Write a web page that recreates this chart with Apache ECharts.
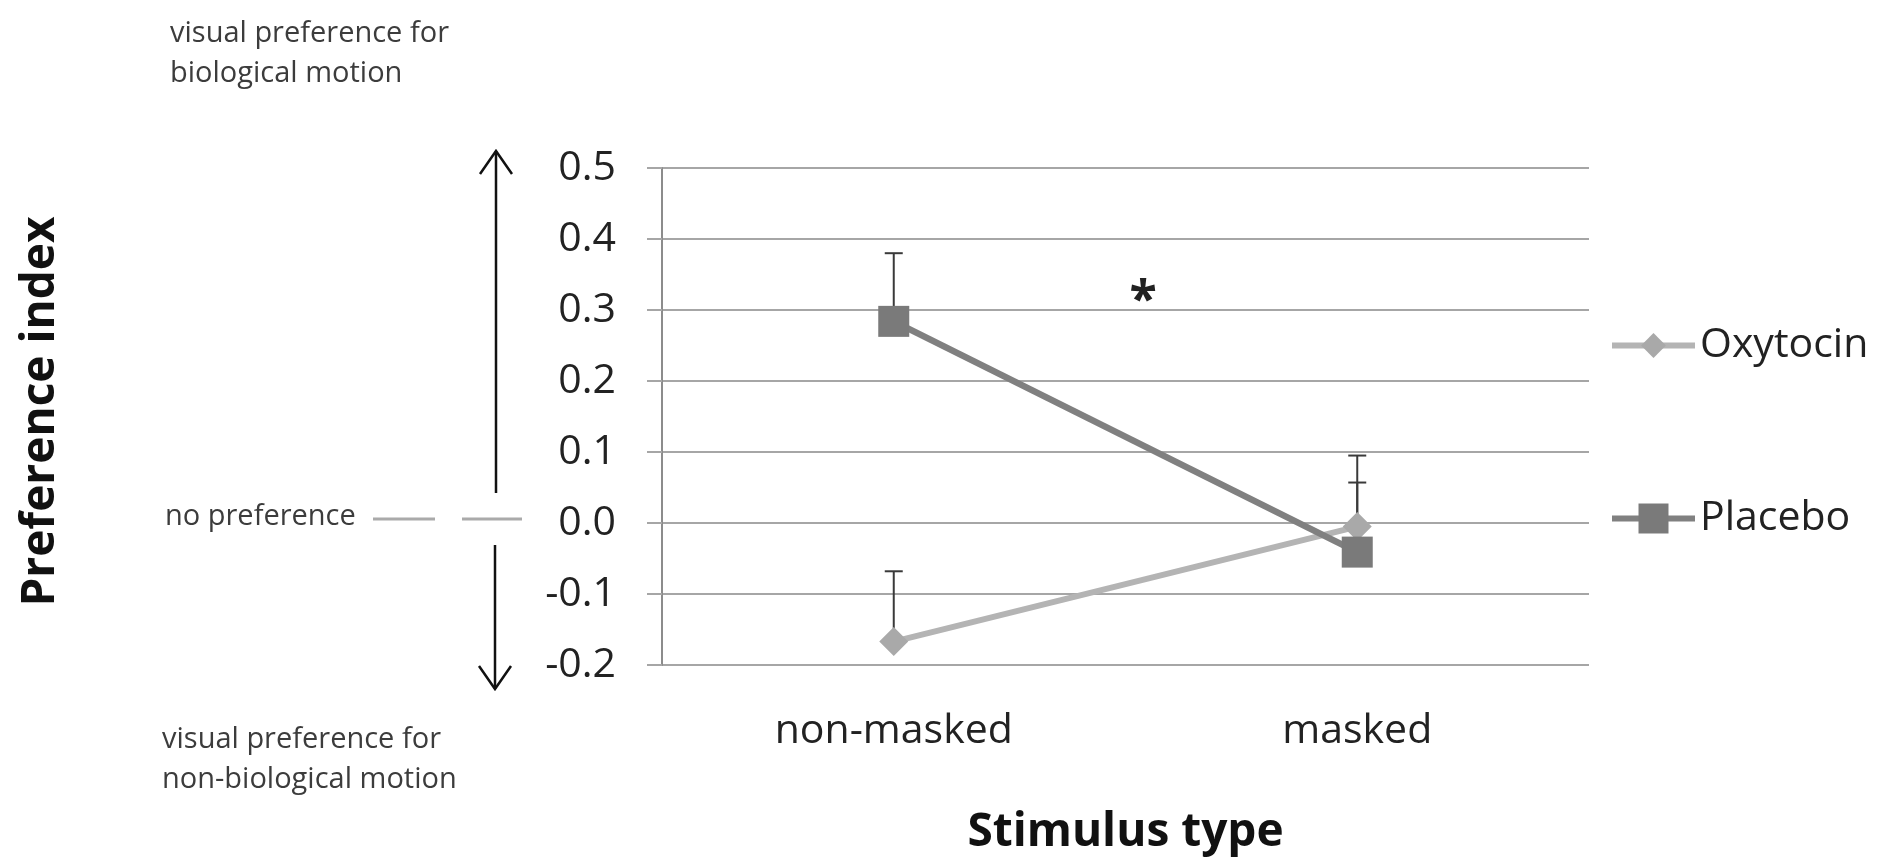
<!DOCTYPE html>
<html>
<head>
<meta charset="utf-8">
<script src="https://cdn.jsdelivr.net/npm/echarts@6/dist/echarts.min.js"></script>
<style>
  html, body { margin: 0; padding: 0; background: #ffffff; }
  #chart { width: 1881px; height: 867px; }
</style>
</head>
<body>
<div id="chart"></div>
<script>
// ---- data ----
var categories = ['non-masked', 'masked'];
var seriesNames = ['Oxytocin', 'Placebo'];
var oxytocinValues = [-0.167, -0.005];
var placeboValues = [0.284, -0.041];
var oxytocinErrors = [0.099, 0.100];
var placeboErrors = [0.096, 0.098];
var yTickLabels = ['-0.2', '-0.1', '0.0', '0.1', '0.2', '0.3', '0.4', '0.5'];
var yMin = -0.2, yMax = 0.5, yStep = 0.1;

var FONT = '"Open Sans", "Noto Sans", sans-serif';

function errData(vals, errs) {
  return vals.map(function (v, i) { return [i, v, errs[i]]; });
}

function errRender(params, api) {
  var x = api.value(0), y = api.value(1), e = api.value(2);
  var p0 = api.coord([x, y]);
  var p1 = api.coord([x, y + e]);
  var hw = 9;
  var st = { stroke: '#3a3a3a', lineWidth: 2 };
  return {
    type: 'group',
    children: [
      { type: 'line', shape: { x1: p0[0], y1: p0[1], x2: p1[0], y2: p1[1] }, style: st },
      { type: 'line', shape: { x1: p1[0] - hw, y1: p1[1], x2: p1[0] + hw, y2: p1[1] }, style: st }
    ]
  };
}

var chart = echarts.init(document.getElementById('chart'), null, { renderer: 'canvas' });

var option = {
  animation: false,
  backgroundColor: '#ffffff',
  grid: { left: 662, right: 292, top: 168, bottom: 202, containLabel: false },
  xAxis: {
    type: 'category',
    data: categories,
    boundaryGap: true,
    axisLine: { show: false },
    axisTick: { show: false },
    axisLabel: { margin: 46, fontSize: 41, fontFamily: FONT, color: '#222222' },
    name: 'Stimulus type',
    nameLocation: 'middle',
    nameGap: 145,
    nameTextStyle: { fontSize: 46, fontWeight: 'bold', fontFamily: FONT, color: '#111111' }
  },
  yAxis: {
    type: 'value',
    min: yMin,
    max: yMax,
    interval: yStep,
    axisLine: { show: true, lineStyle: { color: '#8c8c8c', width: 2 } },
    axisTick: { show: true, inside: false, length: 15, lineStyle: { color: '#a6a6a6', width: 2 } },
    splitLine: { show: true, lineStyle: { color: '#a6a6a6', width: 2 } },
    axisLabel: {
      margin: 46, fontSize: 41, fontFamily: FONT, color: '#222222',
      formatter: function (v) {
        var idx = Math.round((v - yMin) / yStep);
        return yTickLabels[idx];
      }
    },
    name: 'Preference index',
    nameLocation: 'middle',
    nameGap: 598,
    nameTextStyle: { fontSize: 46, fontWeight: 'bold', fontFamily: FONT, color: '#111111', padding: [0, 0, 0, 10] }
  },
  legend: [
    {
      data: [seriesNames[0]],
      orient: 'vertical',
      left: 1609, top: 325,
      padding: 0,
      itemWidth: 83, itemHeight: 31,
      lineStyle: { width: 6 },
      textStyle: { fontSize: 41, fontFamily: FONT, color: '#222222', lineHeight: 30 },
      selectedMode: false
    },
    {
      data: [seriesNames[1]],
      orient: 'vertical',
      left: 1609, top: 498,
      padding: 0,
      itemWidth: 83, itemHeight: 37.5,
      lineStyle: { width: 6 },
      textStyle: { fontSize: 41, fontFamily: FONT, color: '#222222', lineHeight: 30 },
      selectedMode: false
    }
  ],
  series: [
    {
      name: seriesNames[0] + ' error',
      type: 'custom',
      renderItem: errRender,
      data: errData(oxytocinValues, oxytocinErrors),
      z: 1,
      silent: true
    },
    {
      name: seriesNames[1] + ' error',
      type: 'custom',
      renderItem: errRender,
      data: errData(placeboValues, placeboErrors),
      z: 1,
      silent: true
    },
    {
      name: seriesNames[0],
      type: 'line',
      data: oxytocinValues,
      symbol: 'diamond',
      symbolSize: 29,
      color: '#b4b4b4',
      lineStyle: { color: '#b4b4b4', width: 6 },
      itemStyle: { color: '#a9a9a9' },
      z: 3
    },
    {
      name: seriesNames[1],
      type: 'line',
      data: placeboValues,
      symbol: 'rect',
      symbolSize: 31,
      color: '#7f7f7f',
      lineStyle: { color: '#808080', width: 6.5 },
      itemStyle: { color: '#7a7a7a' },
      z: 4
    }
  ],
  graphic: [
    // significance marker
    { type: 'text', x: 1143, y: 302, z: 10,
      style: { text: '*', font: 'bold 50px ' + FONT, fill: '#222222', align: 'center', verticalAlign: 'middle' } },
    // top annotation
    { type: 'text', x: 170, y: 14,
      style: { text: 'visual preference for\nbiological motion', font: '29px ' + FONT, fill: '#3c3c3c', lineHeight: 40, align: 'left', verticalAlign: 'top' } },
    // middle annotation
    { type: 'text', x: 165, y: 517,
      style: { text: 'no preference', font: '29px ' + FONT, fill: '#3c3c3c', align: 'left', verticalAlign: 'middle' } },
    // bottom annotation
    { type: 'text', x: 162, y: 720,
      style: { text: 'visual preference for\nnon-biological motion', font: '29px ' + FONT, fill: '#3c3c3c', lineHeight: 40, align: 'left', verticalAlign: 'top' } },
    // dashed "no preference" line
    { type: 'line', shape: { x1: 373, y1: 519, x2: 435, y2: 519 }, style: { stroke: '#aaaaaa', lineWidth: 3 } },
    { type: 'line', shape: { x1: 462, y1: 519, x2: 522, y2: 519 }, style: { stroke: '#aaaaaa', lineWidth: 3 } },
    // up arrow
    { type: 'line', shape: { x1: 496, y1: 493, x2: 496, y2: 151 }, style: { stroke: '#111111', lineWidth: 2.5 } },
    { type: 'polyline', shape: { points: [[480, 174], [496, 151], [512, 174]] }, style: { stroke: '#111111', lineWidth: 2.5, fill: null } },
    // down arrow
    { type: 'line', shape: { x1: 495, y1: 545, x2: 495, y2: 689 }, style: { stroke: '#111111', lineWidth: 2.5 } },
    { type: 'polyline', shape: { points: [[479, 666], [495, 689], [511, 666]] }, style: { stroke: '#111111', lineWidth: 2.5, fill: null } }
  ]
};

chart.setOption(option);
</script>
</body>
</html>
